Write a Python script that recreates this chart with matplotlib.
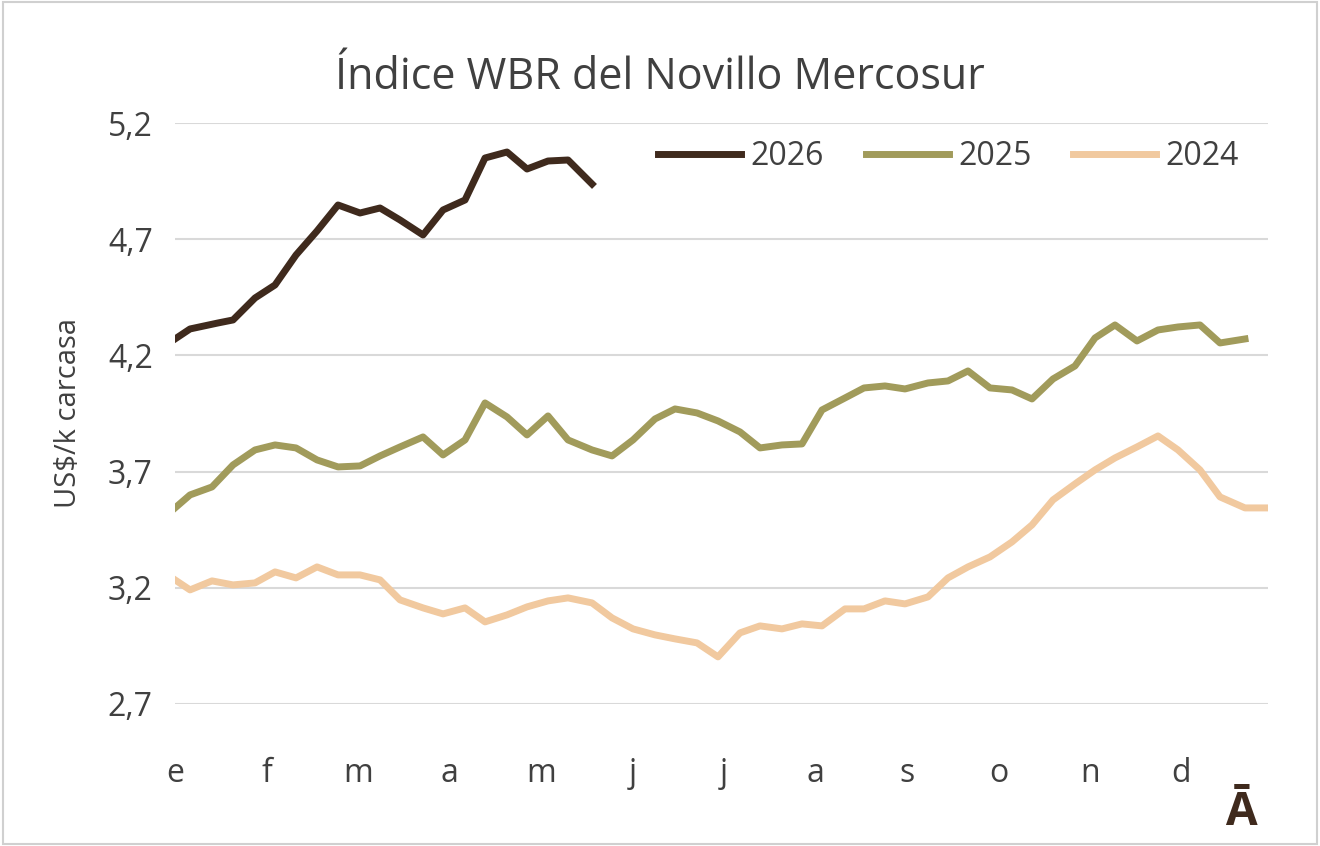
import matplotlib.pyplot as plt
import numpy as np

plt.rcParams["font.family"] = ["Open Sans", "DejaVu Sans"]

# weekly values, x in months from January
x26 = [175, 190, 218, 233, 255, 275, 296, 317, 338, 360, 380, 400, 423, 443, 465, 485, 507, 527, 548, 568, 592]
y26 = [339, 329, 323, 320, 298, 285, 255, 231, 205, 213, 208, 220, 235, 210, 200, 158, 152, 169, 161, 160, 184]

x25 = [175, 190, 212, 233, 255, 275, 296, 317, 338, 360, 380, 400, 423, 443, 465, 485, 507, 527, 548, 568,
       592, 612, 633, 655, 675, 697, 718, 740, 760, 782, 802, 822, 845, 864, 885, 905, 928, 948, 968, 990,
       1012, 1032, 1053, 1075, 1095, 1115, 1137, 1158, 1178, 1200, 1220, 1245]
y25 = [508, 495, 487, 465, 450, 445, 448, 460, 467, 466, 456, 447, 437, 455, 440, 403, 417, 435, 416, 440,
       450, 456, 440, 419, 409, 413, 421, 432, 448, 445, 444, 410, 398, 388, 386, 389, 383, 381, 371, 388,
       390, 399, 379, 366, 338, 325, 341, 330, 327, 325, 343, 339]

x24 = [175, 190, 212, 233, 255, 275, 296, 317, 338, 360, 380, 400, 423, 443, 465, 485, 507, 527, 548, 568,
       592, 612, 633, 655, 675, 697, 718, 740, 760, 782, 802, 822, 845, 864, 885, 905, 928, 948, 968, 990,
       1012, 1032, 1053, 1075, 1095, 1115, 1137, 1158, 1178, 1200, 1220, 1245, 1268]
y24 = [580, 590, 581, 585, 583, 572, 578, 567, 575, 575, 580, 600, 608, 614, 608, 622, 615, 607, 601, 598,
       603, 618, 629, 635, 639, 643, 657, 633, 626, 629, 624, 626, 609, 609, 601, 604, 597, 578, 567, 557,
       542, 525, 500, 484, 470, 458, 447, 436, 450, 470, 497, 508, 508]


def to_month(px):
    return (np.array(px) - 175) / 91.5


def to_value(py):
    return 5.2 - (np.array(py) - 123) / 232.4


fig = plt.figure(figsize=(13.2, 8.46), dpi=100)
ax = fig.add_axes([0.1326, 0.168, 0.828, 0.6866])

ax.plot(to_month(x26), to_value(y26), color="#3f2a1d", lw=5, label="2026")
ax.plot(to_month(x25), to_value(y25), color="#a19b5b", lw=5, label="2025")
ax.plot(to_month(x24), to_value(y24), color="#f1c99f", lw=5, label="2024")

ax.set_xlim(0, to_month(1268))
ax.set_ylim(2.7, 5.2)
ax.set_yticks([2.7, 3.2, 3.7, 4.2, 4.7, 5.2])
ax.set_yticklabels(["2,7", "3,2", "3,7", "4,2", "4,7", "5,2"])
ax.set_xticks(range(12))
ax.set_xticklabels(list("efmamjjasond"))
ax.tick_params(length=0, labelsize=23, colors="#404040")
ax.tick_params(axis="x", pad=38)
ax.tick_params(axis="y", pad=16)
ax.grid(axis="y", color="#d9d9d9", lw=1.5)
ax.set_axisbelow(True)
for s in ax.spines.values():
    s.set_visible(False)
ax.set_ylabel("US$/k carcasa", fontsize=21, color="#404040", labelpad=18)
ax.legend(loc="upper right", ncol=3, frameon=False, fontsize=23, labelcolor="#404040",
          handlelength=2.6, handletextpad=0.3, columnspacing=1.3, bbox_to_anchor=(1.0, 1.02))

fig.text(0.5, 0.895, "Índice WBR del Novillo Mercosur", ha="center", fontsize=31, color="#404040")
fig.text(0.94, 0.025, "Ā", ha="center", fontsize=33, fontweight="bold", color="#3f2a1d")
fig.patches.append(plt.Rectangle((0.002, 0.002), 0.996, 0.996, transform=fig.transFigure,
                                 fill=False, edgecolor="#d0d0d0", lw=1.5))

fig.savefig("out.png")
plt.close()
